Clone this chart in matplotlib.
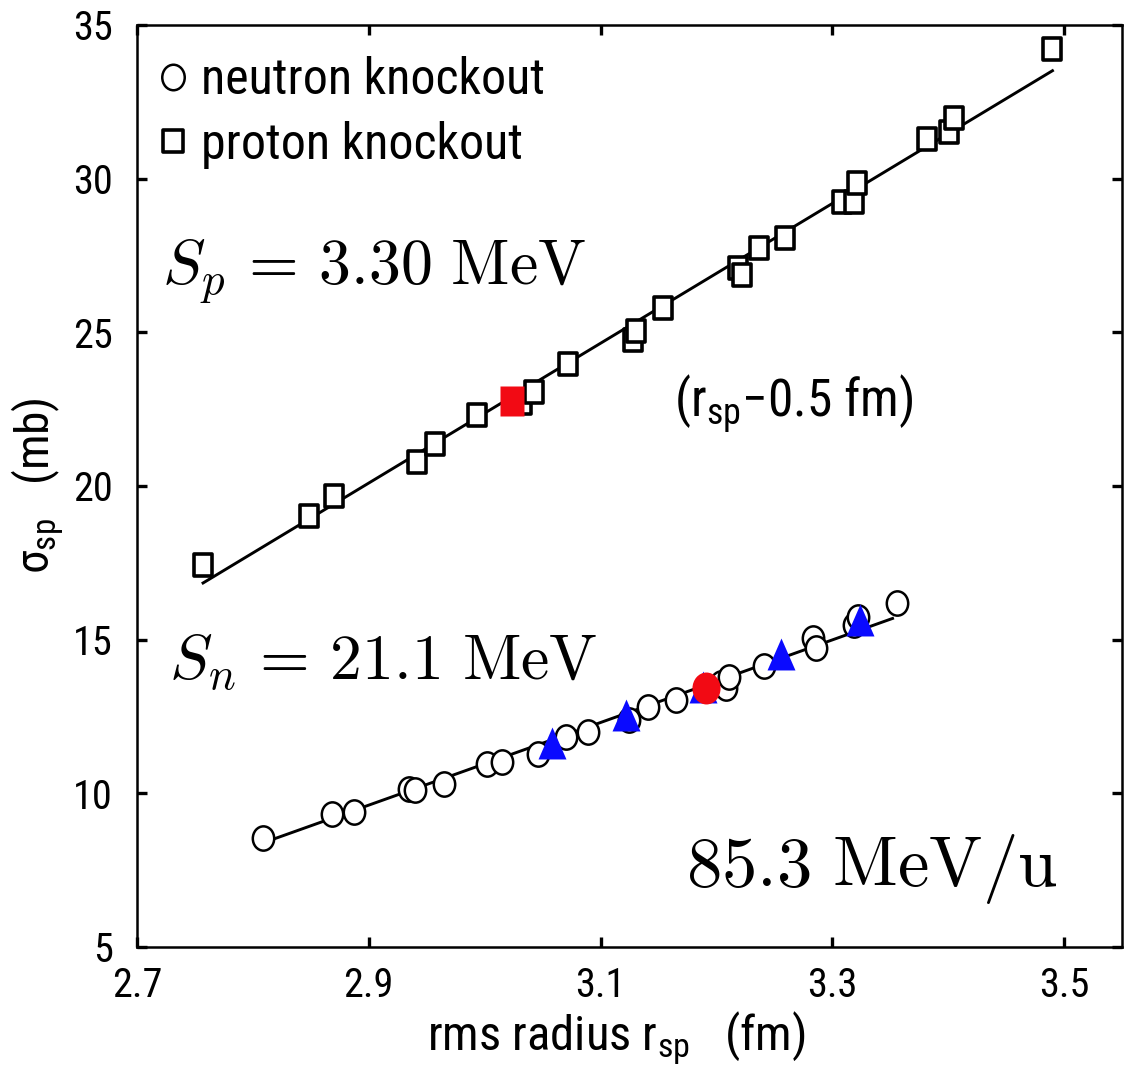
import numpy as np
import matplotlib
matplotlib.use("Agg")
import matplotlib.pyplot as plt
from matplotlib import font_manager
from matplotlib.path import Path
from matplotlib.transforms import Affine2D

# Prefer a narrow Helvetica-like face; otherwise use Liberation Sans a bit smaller.
_installed = {f.name for f in font_manager.fontManager.ttflist}
NARROW = next((n for n in ("Liberation Sans Narrow", "Roboto Condensed",
                           "Open Sans Condensed") if n in _installed), None)
SANS_NAME = NARROW or "Liberation Sans"
K = 1.0 if NARROW else 0.88          # size factor for horizontal text

plt.rcParams["font.family"] = [SANS_NAME, "Liberation Sans", "DejaVu Sans"]
plt.rcParams["mathtext.fontset"] = "custom"
plt.rcParams["mathtext.rm"] = SANS_NAME
plt.rcParams["mathtext.it"] = SANS_NAME + ":italic"
plt.rcParams["mathtext.bf"] = SANS_NAME + ":bold"

# ---- data: single-particle cross sections vs rms radius ----
proton_r = [2.757, 2.848, 2.870, 2.942, 2.957, 2.993, 3.032, 3.043, 3.072,
            3.128, 3.131, 3.154, 3.219, 3.222, 3.237, 3.259, 3.308, 3.319,
            3.321, 3.382, 3.401, 3.405, 3.490]
proton_sigma = [17.43, 19.03, 19.68, 20.79, 21.36, 22.31, 22.69, 23.07, 23.97,
                24.75, 25.05, 25.79, 27.09, 26.87, 27.73, 28.07, 29.25, 29.23,
                29.85, 31.28, 31.53, 31.97, 34.21]

neutron_r = [2.809, 2.868, 2.887, 2.935, 2.940, 2.965, 3.002, 3.015, 3.046,
             3.070, 3.089, 3.125, 3.141, 3.165, 3.204, 3.208, 3.211, 3.241,
             3.283, 3.286, 3.319, 3.322, 3.356]
neutron_sigma = [8.56, 9.33, 9.40, 10.13, 10.11, 10.29, 10.97, 11.02, 11.28,
                 11.84, 12.00, 12.39, 12.82, 13.04, 13.58, 13.42, 13.80, 14.14,
                 15.04, 14.72, 15.48, 15.75, 16.18]

extra_r = [3.058, 3.122, 3.188, 3.256, 3.324]
extra_sigma = [11.65, 12.55, 13.45, 14.53, 15.65]

proton_sel_r, proton_sel_sigma = [3.024], [22.75]
neutron_sel_r, neutron_sel_sigma = [3.191], [13.44]

# linear fits: (slope, intercept, r_min, r_max)
proton_fit = (22.74, -45.85, 2.757, 3.490)
neutron_fit = (13.44, -29.36, 2.809, 3.352)

xticks = [2.7, 2.9, 3.1, 3.3, 3.5]
yticks = [5, 10, 15, 20, 25, 30, 35]

# ---- markers (slightly narrow shapes) ----
sq_marker = Path([(-0.85, -1), (0.85, -1), (0.85, 1), (-0.85, 1), (-0.85, -1)],
                 closed=True)
ell_marker = Path.unit_circle().transformed(Affine2D().scale(0.88, 1.0))
tri_marker = Path([(0, 1), (-0.875, -1), (0.875, -1), (0, 1)], closed=True)

fig = plt.figure(figsize=(11.26, 10.71), dpi=100)
ax = fig.add_axes([137 / 1126, 1 - 947 / 1071, (1122 - 137) / 1126, (947 - 25) / 1071])

for slope, icpt, r0, r1 in (proton_fit, neutron_fit):
    rr = np.array([r0, r1])
    ax.plot(rr, slope * rr + icpt, color="black", lw=2.1, zorder=2)

ln_n, = ax.plot(neutron_r, neutron_sigma, ls="none", marker=ell_marker, ms=17.5,
                mfc="white", mec="black", mew=1.8, zorder=3, label="neutron knockout")
ln_p, = ax.plot(proton_r, proton_sigma, ls="none", marker=sq_marker, ms=15.5,
                mfc="white", mec="black", mew=2.6, zorder=3, label="proton knockout")
ax.plot(extra_r, extra_sigma, ls="none", marker=tri_marker, ms=23,
        mfc="#0a0aff", mec="none", zorder=4)
ax.plot(proton_sel_r, proton_sel_sigma, ls="none", marker=sq_marker, ms=21,
        mfc="#f20a14", mec="none", zorder=5)
ax.plot(neutron_sel_r, neutron_sel_sigma, ls="none", marker=ell_marker, ms=23,
        mfc="#f20a14", mec="none", zorder=5)

ax.set_xlim(2.7, 3.55)
ax.set_ylim(5, 35)
ax.set_xticks(xticks)
ax.set_xticklabels([f"{v:.1f}" for v in xticks])
ax.set_yticks(yticks)
ax.set_yticklabels([str(v) for v in yticks])
ax.tick_params(direction="in", top=True, right=True, length=7, width=2.4,
               labelsize=29 * K + (0 if NARROW else 1.5))
ax.tick_params(axis="x", pad=14)
ax.tick_params(axis="y", pad=17.5)
for sp in ax.spines.values():
    sp.set_linewidth(1.8)

ax.set_xlabel(r"rms radius r$_{\mathrm{sp}}$   (fm)", fontsize=35 * K, labelpad=3,
              x=0.487)
ax.set_ylabel(r"σ$_{\mathrm{sp}}$   (mb)", fontsize=34, labelpad=4)

fs_leg = 36 * K
leg = ax.legend(handles=[ln_n, ln_p], loc="upper left", bbox_to_anchor=(0.0228, 0.966),
                frameon=False, fontsize=fs_leg, borderpad=0, borderaxespad=0,
                handlelength=0.55, handletextpad=0.28, labelspacing=0.33,
                markerscale=1.05)

ax.text(2.722, 26.54, r"$S_p\,=\,3.30\ \mathrm{MeV}$", fontsize=46,
        math_fontfamily="cm", va="baseline", ha="left")
ax.text(2.728, 13.69, r"$S_n\,=\,21.1\ \mathrm{MeV}$", fontsize=46,
        math_fontfamily="cm", va="baseline", ha="left")
ax.text(3.174, 6.99, r"$85.3\ \mathrm{MeV/u}$", fontsize=51,
        math_fontfamily="cm", va="baseline", ha="left")
ax.text(3.163, 22.25, r"(r$_{\mathrm{sp}}$−0.5 fm)", fontsize=37 * K,
        va="baseline", ha="left")

fig.savefig("out.png", dpi=100)
